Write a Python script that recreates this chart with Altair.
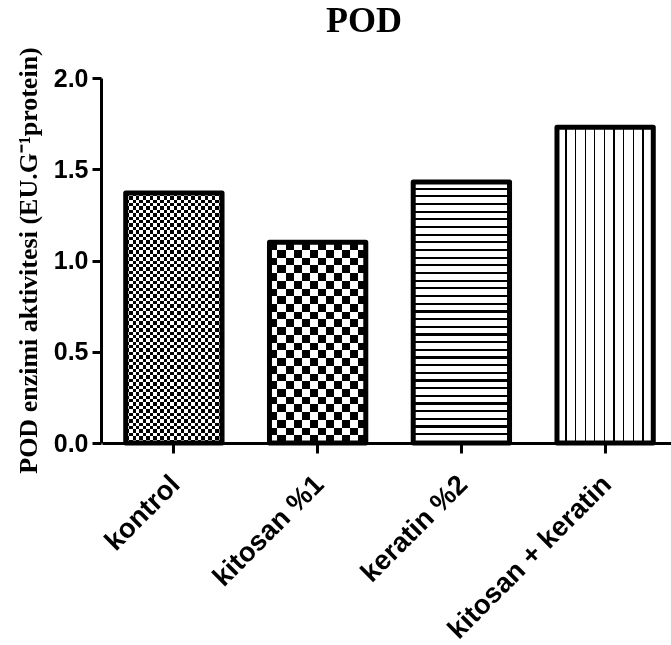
import altair as alt
import pandas as pd

# ---- data ----
groups = ["kontrol", "kitosan %1", "keratin %2", "kitosan + keratin"]
pod_values = [1.37, 1.10, 1.43, 1.73]
y_ticks = [0.0, 0.5, 1.0, 1.5, 2.0]

df = pd.DataFrame({"grup": groups, "deger": pod_values})

# ---- geometry/style helpers (pattern fills) ----
PLOT_W, PLOT_H = 570, 365
X_RANGE = [1, 576]
PAD_IN, PAD_OUT = 0.33, 0.165
STEP = (X_RANGE[1] - X_RANGE[0]) / (len(groups) - PAD_IN + 2 * PAD_OUT)
BAR_W = STEP * (1 - PAD_IN)
PX_PER_UNIT = PLOT_H / 2.0


def stripe_gradient(periods, duty, vertical_lines, first="black"):
    second = "white" if first == "black" else "black"
    stops = []
    for k in range(periods):
        s = k / periods
        m = (k + duty) / periods
        e = (k + 1) / periods
        stops += [
            alt.GradientStop(offset=s, color=first),
            alt.GradientStop(offset=m, color=first),
            alt.GradientStop(offset=m, color=second),
            alt.GradientStop(offset=e, color=second),
        ]
    if vertical_lines:
        return alt.Gradient(gradient="linear", stops=stops, x1=0, y1=0, x2=1, y2=0)
    return alt.Gradient(gradient="linear", stops=stops, x1=0, y1=0, x2=0, y2=1)


x_enc = alt.X(
    "grup:N",
    sort=groups,
    scale=alt.Scale(range=X_RANGE, paddingInner=PAD_IN, paddingOuter=PAD_OUT),
    axis=alt.Axis(
        title=None,
        labelAngle=-45,
        labelAlign="right",
        labelBaseline="middle",
        labelFont="Liberation Sans",
        labelFontWeight="bold",
        labelFontSize=27.5,
        labelColor="black",
        labelPadding=27,
        labelOffset=2,
        labelLimit=600,
        tickSize=10,
        tickWidth=3,
        tickColor="black",
        domainWidth=3,
        domainColor="black",
        grid=False,
    ),
)
y_enc = alt.Y(
    "deger:Q",
    scale=alt.Scale(domain=[0, 2]),
    axis=alt.Axis(
        title="POD enzimi aktivitesi (EU.G\u207b\u00b9protein)",
        titleFont="Liberation Serif",
        titleFontWeight="bold",
        titleFontSize=26,
        titleColor="black",
        titleAngle=-90,
        titleAlign="center",
        titleBaseline="alphabetic",
        titleX=-65,
        titleY=182,
        values=y_ticks,
        format=".1f",
        labelFont="Liberation Sans",
        labelFontWeight="bold",
        labelFontSize=25,
        labelColor="black",
        labelPadding=4,
        tickSize=9,
        tickWidth=3,
        tickColor="black",
        domainWidth=3,
        domainColor="black",
        grid=False,
    ),
)

base = alt.Chart(df).encode(x=x_enc, y=y_enc)


def rows_for(value, cell):
    return max(1, round(value * PX_PER_UNIT / cell / 2))


layers = []
# kontrol: fine checkerboard
cell_fine = 3.4
layers.append(
    base.transform_filter(alt.datum.grup == groups[0]).mark_bar(
        fill=stripe_gradient(round(BAR_W / cell_fine / 2), 0.5, True)
    )
)
layers.append(
    base.transform_filter(alt.datum.grup == groups[0]).mark_bar(
        fill=stripe_gradient(rows_for(pod_values[0], cell_fine), 0.5, False),
        blend="difference",
    )
)
# kitosan %1: coarse checkerboard
cell_coarse = 8.0
layers.append(
    base.transform_filter(alt.datum.grup == groups[1]).mark_bar(
        fill=stripe_gradient(round(BAR_W / cell_coarse / 2), 0.5, True)
    )
)
layers.append(
    base.transform_filter(alt.datum.grup == groups[1]).mark_bar(
        fill=stripe_gradient(rows_for(pod_values[1], cell_coarse), 0.5, False),
        blend="difference",
    )
)
# keratin %2: horizontal lines
h_spacing = 7.7
layers.append(
    base.transform_filter(alt.datum.grup == groups[2]).mark_bar(
        fill=stripe_gradient(
            round(pod_values[2] * PX_PER_UNIT / h_spacing), 0.72, False, first="white"
        )
    )
)
# kitosan + keratin: vertical lines
v_spacing = 9.7
layers.append(
    base.transform_filter(alt.datum.grup == groups[3]).mark_bar(
        fill=stripe_gradient(round(BAR_W / v_spacing), 0.86, True, first="white")
    )
)
# outlines
layers.append(
    base.mark_bar(fillOpacity=0, stroke="black", strokeWidth=5, strokeJoin="round")
)

chart = (
    alt.layer(*layers)
    .properties(
        width=PLOT_W,
        height=PLOT_H,
        autosize=alt.AutoSizeParams(type="none"),
        padding={"left": 101, "top": 78, "right": 0, "bottom": 202},
        title=alt.TitleParams(
            "POD",
            font="Liberation Serif",
            fontSize=36,
            fontWeight="bold",
            color="black",
            anchor="middle",
            frame="group",
            baseline="alphabetic",
            offset=0,
            dy=21,
            dx=-22,
        ),
        background="white",
    )
    .configure_view(stroke=None)
)

chart.save("out.html", embed_options={"renderer": "svg", "actions": False})
